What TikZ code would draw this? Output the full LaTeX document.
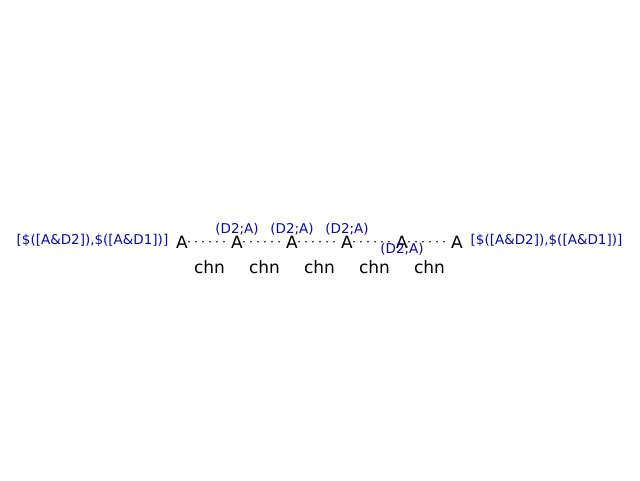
\documentclass[tikz,border=0pt]{standalone}
\usepackage{fontspec}
\setmainfont{DejaVu Sans}
\usetikzlibrary{calc}
\definecolor{tagblue}{RGB}{10,10,160}
\tikzset{
  atom/.style={inner sep=1pt,anchor=base,font=\fontsize{17}{20}\selectfont},
  chnlabel/.style={inner sep=1pt,anchor=base,font=\fontsize{17}{20}\selectfont},
  tag/.style={inner sep=0pt,text=tagblue,font=\fontsize{13.5}{16}\selectfont},
  bond/.style={line width=1.8pt,line cap=round,dash pattern=on 0pt off 7pt}
}

\begin{document}
\begin{tikzpicture}[x=1pt,y=1pt]
\useasboundingbox (0,0) rectangle (640,480);
\def\s{55}
% chain of atoms
\node[atom] (a1) at (182,232) {A};
\node[atom] (a2) at ({182+\s},232) {A};
\node[atom] (a3) at ({182+2*\s},232) {A};
\node[atom] (a4) at ({182+3*\s},232) {A};
\node[atom] (a5) at ({182+4*\s},232) {A};
\node[atom] (a6) at ({182+5*\s},232) {A};
\foreach \i/\j in {1/2,2/3,3/4,4/5,5/6}{
  \draw[bond] (a\i)--(a\j);
  \node[chnlabel] (c\i) at ($(a\i.base)!0.5!(a\j.base)+(0,-25.5)$) {chn};
}
% tags
\node[tag,anchor=base] (t2) at ($(a2.base)+(0,15)$) {(D2;A)};
\node[tag,anchor=base] (t3) at ($(a3.base)+(0,15)$) {(D2;A)};
\node[tag,anchor=base] (t4) at ($(a4.base)+(0,15)$) {(D2;A)};
\node[tag,anchor=base] (t5) at ($(a5.base)+(0,-5.5)$) {(D2;A)};
\node[tag,anchor=base east] (left) at (168.5,235) {[\$([A\&D2]),\$([A\&D1])]};
\node[tag,anchor=base west] (right) at (470.5,235) {[\$([A\&D2]),\$([A\&D1])]};
\end{tikzpicture}
\end{document}
